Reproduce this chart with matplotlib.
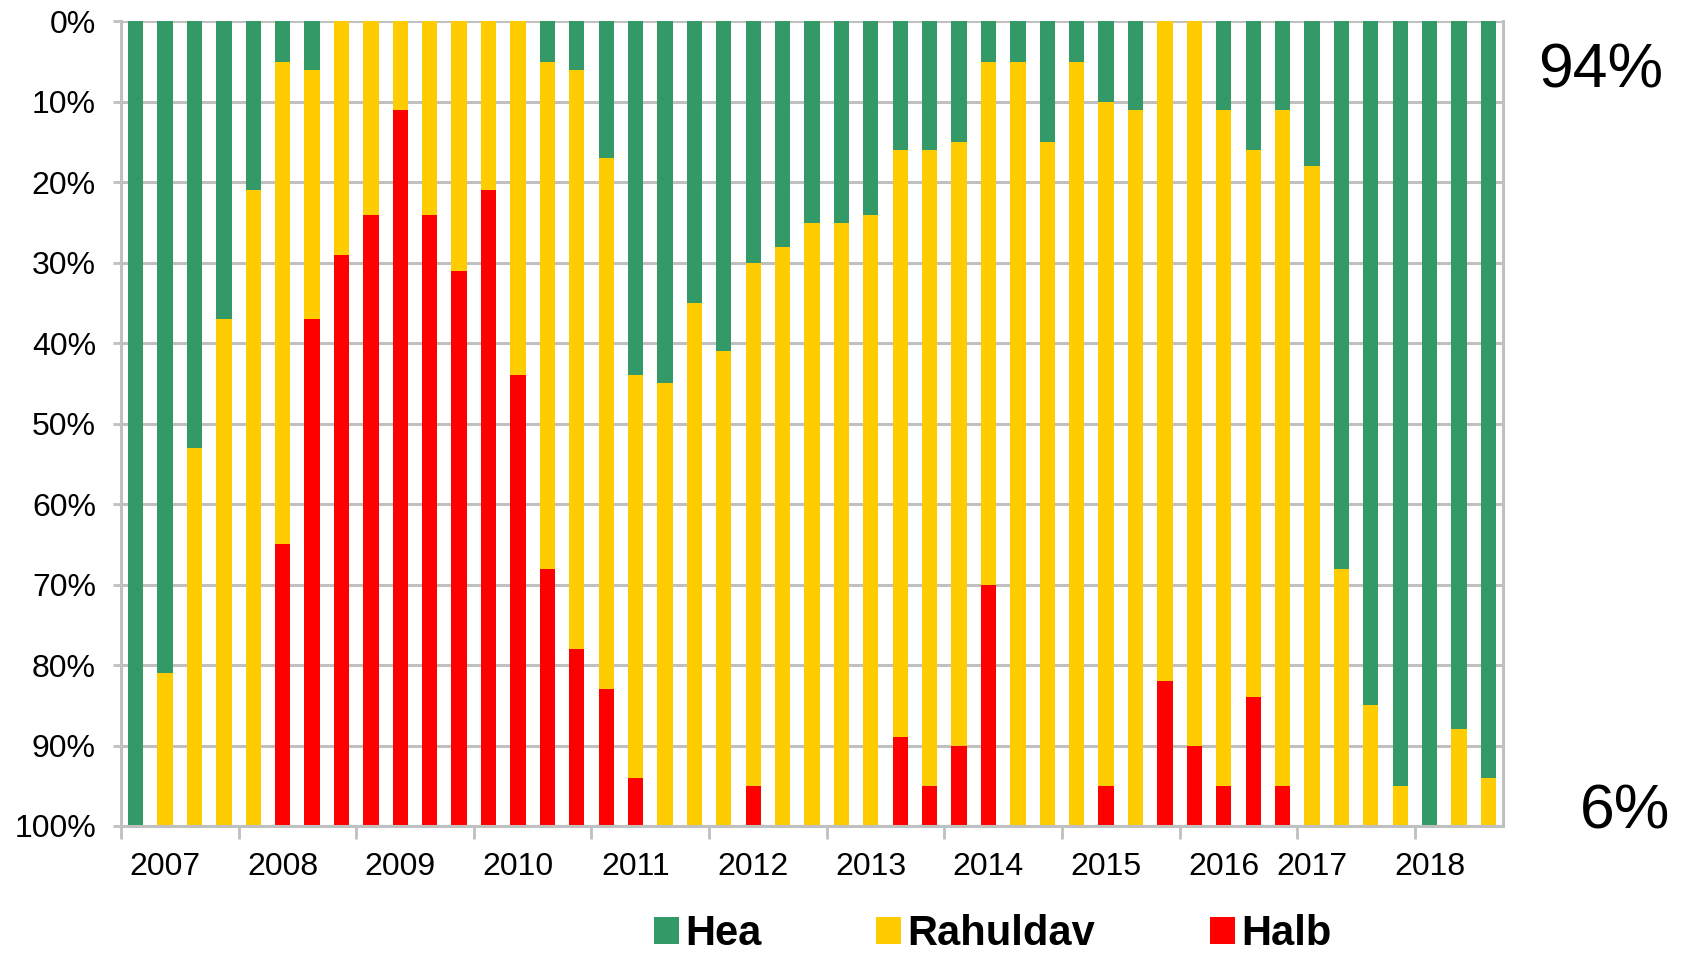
import numpy as np
import matplotlib.pyplot as plt
from matplotlib.ticker import FixedLocator

plt.rcParams['font.family'] = ['Liberation Sans', 'DejaVu Sans']

# osakaalud (%) iga küsitluse kohta, ülevalt alla: Hea, Rahuldav, Halb
hea = [100, 81, 53, 37, 21, 5, 6, 0, 0, 0, 0, 0, 0, 0, 5, 6, 17, 44, 45, 35,
       41, 30, 28, 25, 25, 24, 16, 16, 15, 5, 5, 15, 5, 10, 11, 0, 0, 11, 16, 11,
       18, 68, 85, 95, 100, 88, 94]
rahuldav = [0, 19, 47, 63, 79, 60, 31, 29, 24, 11, 24, 31, 21, 44, 63, 72, 66, 50, 55, 65,
            59, 65, 72, 75, 75, 76, 73, 79, 75, 65, 95, 85, 95, 85, 89, 82, 90, 84, 68, 84,
            82, 32, 15, 5, 0, 12, 6]
halb = [0, 0, 0, 0, 0, 35, 63, 71, 76, 89, 76, 69, 79, 56, 32, 22, 17, 6, 0, 0,
        0, 5, 0, 0, 0, 0, 11, 5, 10, 30, 0, 0, 0, 5, 0, 18, 10, 5, 16, 5,
        0, 0, 0, 0, 0, 0, 0]

years = ['2007', '2008', '2009', '2010', '2011', '2012', '2013', '2014',
         '2015', '2016', '2017', '2018']
year_pos = [1, 5, 9, 13, 17, 21, 25, 29, 33, 37, 40, 44]

green = '#339966'
yellow = '#FFCC00'
red = '#FF0000'
grid_c = '#C0C0C0'

fig = plt.figure(figsize=(16.87, 9.63), dpi=100)
ax = fig.add_axes([0.0717, 0.1423, 0.8193, 0.8354])

x = np.arange(len(hea))
hea_a = np.array(hea)
rah_a = np.array(rahuldav)
halb_a = np.array(halb)

w = 0.52
b1 = ax.bar(x, hea_a, width=w, color=green, label='Hea')
b2 = ax.bar(x, rah_a, width=w, bottom=hea_a, color=yellow, label='Rahuldav')
b3 = ax.bar(x, halb_a, width=w, bottom=hea_a + rah_a, color=red, label='Halb')

ax.set_xlim(-0.5, len(hea) - 0.5)
ax.set_ylim(100, 0)

ax.set_yticks(np.arange(0, 101, 10))
ax.set_yticklabels([f'{v}%' for v in range(0, 101, 10)], fontsize=23)
ax.yaxis.grid(True, color=grid_c, linewidth=2.2)
ax.set_axisbelow(True)
ax.tick_params(axis='y', length=6, width=2, color=grid_c, pad=12)

ax.set_xticks(year_pos)
ax.set_xticklabels(years, fontsize=23)
ax.tick_params(axis='x', which='major', length=0, pad=19)
ax.xaxis.set_minor_locator(FixedLocator(np.arange(-0.5, len(hea) - 1, 4)))
ax.tick_params(axis='x', which='minor', length=9, width=2, color=grid_c)

for s in ['left', 'right', 'bottom']:
    ax.spines[s].set_color(grid_c)
    ax.spines[s].set_linewidth(2.2)
ax.spines['top'].set_visible(False)

fig.text(0.949, 0.926, '94%', fontsize=45, ha='center', va='center')
fig.text(0.963, 0.157, '6%', fontsize=45, ha='center', va='center')

fig.legend(handles=[b1, b2, b3], loc='center', bbox_to_anchor=(0.5884, 0.03),
           ncol=3, frameon=False, borderpad=0, handlelength=0.6, handleheight=0.6,
           handletextpad=0.15, columnspacing=2.75,
           prop={'size': 30, 'weight': 'bold'})

fig.savefig('out.png', dpi=100)
